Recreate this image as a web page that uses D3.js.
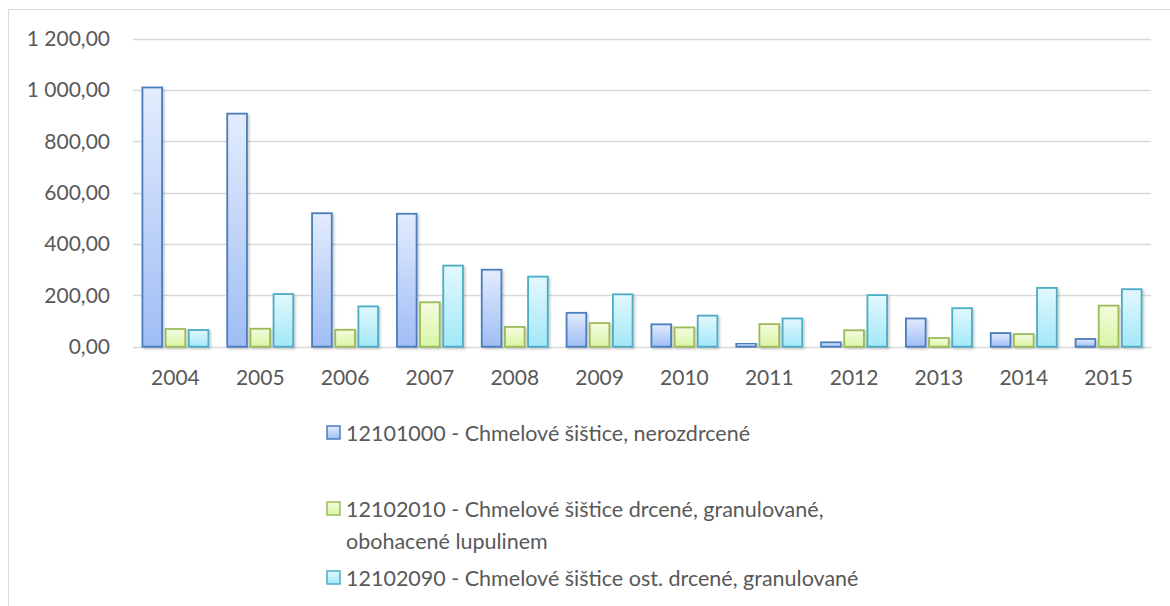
<!DOCTYPE html>
<html>
<head>
<meta charset="utf-8">
<script src="https://cdn.jsdelivr.net/npm/d3@7"></script>
<style>
  html, body { margin: 0; padding: 0; background: #fff; }
  svg { display: block; font-family: Lato, "Open Sans", sans-serif; }
</style>
</head>
<body>
<svg id="chart" width="1170" height="606"></svg>
<script>
// Years on the category axis
const years = ["2004","2005","2006","2007","2008","2009","2010","2011","2012","2013","2014","2015"];

// Series names (customs tariff codes)
const seriesNames = [
  "12101000 - Chmelové šištice, nerozdrcené",
  "12102010 - Chmelové šištice drcené, granulované, obohacené lupulinem",
  "12102090 - Chmelové šištice ost. drcené, granulované"
];

// Values per year for each series
const neRozdrcene   = [1010, 908, 520, 518, 300, 132, 87, 13, 17, 110, 53, 30];
const obohacene     = [69, 70, 66, 173, 77, 92, 75, 88, 64, 34, 49, 160];
const ostDrcene     = [65, 205, 157, 316, 273, 204, 121, 110, 201, 150, 229, 224];

// Value axis ticks
const yTicks = [0, 200, 400, 600, 800, 1000, 1200];

const seriesValues = [neRozdrcene, obohacene, ostDrcene];

// Styling per series: stroke, gradient top, gradient bottom
const palette = [
  { stroke: "#4a7ebb", top: "#e3ecfd", bottom: "#9fbdf5" },
  { stroke: "#9bbb59", top: "#f4fbe0", bottom: "#d9f6a5" },
  { stroke: "#4bacc6", top: "#e3f8fd", bottom: "#a2e8f8" }
];

const svg = d3.select("#chart");
const defs = svg.append("defs");

palette.forEach((p, i) => {
  const g = defs.append("linearGradient")
    .attr("id", "grad" + i)
    .attr("x1", 0).attr("y1", 0).attr("x2", 0).attr("y2", 1);
  g.append("stop").attr("offset", "0%").attr("stop-color", p.top);
  g.append("stop").attr("offset", "100%").attr("stop-color", p.bottom);
});

const shadow = defs.append("filter").attr("id", "shadow")
  .attr("x", "-20%").attr("y", "-10%").attr("width", "150%").attr("height", "130%");
shadow.append("feDropShadow")
  .attr("dx", 1.5).attr("dy", 1.5).attr("stdDeviation", 1.2)
  .attr("flood-color", "#000").attr("flood-opacity", 0.22);

// Chart frame
svg.append("rect")
  .attr("x", 8.5).attr("y", 9.5)
  .attr("width", 1180).attr("height", 620)
  .attr("fill", "none").attr("stroke", "#d9d9d9").attr("stroke-width", 1);

const plotLeft = 133, plotRight = 1151, plotTop = 38.7, plotBottom = 346.7;

const x0 = d3.scaleBand().domain(years).range([plotLeft, plotRight]).padding(0);
const groupWidth = 66;
const x1 = d3.scaleBand().domain([0, 1, 2]).range([0, groupWidth]).paddingInner(0.15);
const y = d3.scaleLinear().domain([0, 1200]).range([plotBottom, plotTop]);

const locale = d3.formatLocale({ decimal: ",", thousands: " ", grouping: [3], currency: ["", ""] });
const fmt = locale.format(",.2f");

// Gridlines
svg.append("g")
  .selectAll("line")
  .data(yTicks)
  .join("line")
  .attr("x1", plotLeft).attr("x2", plotRight)
  .attr("y1", d => Math.round(y(d)) + 0.5).attr("y2", d => Math.round(y(d)) + 0.5)
  .attr("stroke", "#d9d9d9").attr("stroke-width", 1.3);

// Value axis labels
const yAxis = d3.axisLeft(y).tickValues(yTicks).tickFormat(fmt).tickSize(0).tickPadding(0);
const yg = svg.append("g").attr("transform", `translate(${110},0)`).call(yAxis);
yg.select(".domain").remove();
yg.selectAll("text")
  .attr("fill", "#595959").attr("font-size", 21)
  .attr("font-family", "Lato, 'Open Sans', sans-serif");

// Category axis labels
const xAxis = d3.axisBottom(x0).tickSize(0).tickPadding(0);
const xg = svg.append("g").attr("transform", `translate(0,${370})`).call(xAxis);
xg.select(".domain").remove();
xg.selectAll("text")
  .attr("fill", "#595959").attr("font-size", 21)
  .attr("font-family", "Lato, 'Open Sans', sans-serif");

// Bars
const groups = svg.append("g")
  .selectAll("g")
  .data(years)
  .join("g")
  .attr("transform", d => `translate(${x0(d) + (x0.bandwidth() - groupWidth) / 2},0)`);

groups.selectAll("rect")
  .data((d, i) => seriesValues.map((s, k) => ({ k, v: s[i] })))
  .join("rect")
  .attr("x", d => x1(d.k))
  .attr("y", d => y(d.v))
  .attr("width", x1.bandwidth())
  .attr("height", d => plotBottom - y(d.v))
  .attr("fill", d => `url(#grad${d.k})`)
  .attr("stroke", d => palette[d.k].stroke)
  .attr("stroke-width", 1.8)
  .attr("filter", "url(#shadow)");

// Legend
const legendRows = [
  { k: 0, lines: ["12101000 - Chmelové šištice, nerozdrcené"], y: 433 },
  { k: 1, lines: ["12102010 - Chmelové šištice drcené, granulované,", "obohacené lupulinem"], y: 509 },
  { k: 2, lines: ["12102090 - Chmelové šištice ost. drcené, granulované"], y: 578 }
];

const legend = svg.append("g");
legendRows.forEach(r => {
  legend.append("rect")
    .attr("x", 327).attr("y", r.y - 7)
    .attr("width", 13).attr("height", 13)
    .attr("fill", `url(#grad${r.k})`)
    .attr("stroke", palette[r.k].stroke).attr("stroke-width", 1.5);
  const t = legend.append("text")
    .attr("x", 346).attr("y", r.y)
    .attr("fill", "#595959").attr("font-size", 21.5);
  r.lines.forEach((line, i) => {
    t.append("tspan").attr("x", 346).attr("dy", i === 0 ? "0.35em" : 32).text(line);
  });
});
</script>
</body>
</html>
